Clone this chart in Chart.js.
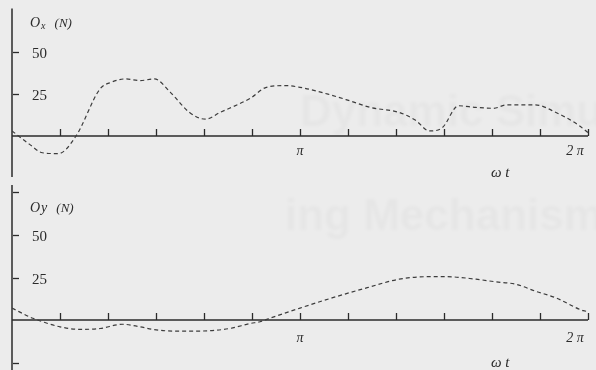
<!DOCTYPE html>
<html>
<head>
<meta charset="utf-8">
<title>Ox / Oy joint forces vs crank angle</title>
<script src="https://cdn.jsdelivr.net/npm/chart.js@4.4.0/dist/chart.umd.min.js"></script>
<style>
  html, body { margin: 0; padding: 0; background: #ececec; overflow: hidden; }
  .panel { position: relative; width: 596px; height: 185px; }
</style>
</head>
<body>
<div class="panel"><canvas id="oxChart"></canvas></div>
<div class="panel"><canvas id="oyChart"></canvas></div>
<script>
// crank angle ωt in degrees, 0 .. 360 (= 2π)
const oxAngles = [0, 11, 19, 29, 40, 55, 62, 71, 80, 89, 99, 111, 121, 130, 149, 159, 171, 180, 199, 211, 224, 242, 252, 261, 269, 279, 290, 301, 309, 327, 340, 354, 360];
const oxValues = [3, -5, -10, -10.5, 0, 28, 32, 34, 33, 34, 26, 14, 10, 14, 22.5, 29, 30, 29, 24.5, 21, 17, 14, 9.5, 3, 5, 18, 17, 16.5, 18.5, 18.5, 14, 6.5, 2];

const oyAngles = [0, 13, 19, 30, 42, 55, 69, 80, 88, 101, 117, 136, 149, 155, 161, 180, 200, 222, 242, 261, 271, 290, 302, 315, 327, 340, 357, 360];
const oyValues = [7, 1, -1, -4, -5.5, -5, -2.5, -4, -5.5, -6.5, -6.5, -5, -2, -1, 1, 7, 13, 19, 24, 25.5, 25.5, 24, 22.5, 21, 17, 13, 5.5, 5];

const xTicks = [30, 60, 90, 120, 150, 180, 210, 240, 270, 300, 330, 360];
const xTickLabels = ['', '', '', '', '', 'π', '', '', '', '', '', '2 π'];

const oxTicks = [50, 25];
const oxTickLabels = ['50', '25'];
const oyTicks = [75, 50, 25, -25];
const oyTickLabels = ['', '50', '25', ''];

const ink = '#2b2b2b';
const curveColor = '#3c3c3c';

// draws the hand-made looking axes through the chart's own scales
const mechAxes = {
  id: 'mechAxes',
  beforeDraw(chart, args, opts) {
    const ctx = chart.ctx;
    ctx.save();
    // faint print-through from the other side of the page
    ctx.filter = 'blur(1.5px)';
    ctx.fillStyle = 'rgba(0,0,0,0.025)';
    ctx.font = 'bold 44px "Liberation Sans", sans-serif';
    ctx.fillText(opts.ghost, opts.ghostX, opts.ghostY);
    ctx.restore();
  },
  beforeDatasetsDraw(chart, args, opts) {
    const ctx = chart.ctx;
    const xs = chart.scales.x;
    const ys = chart.scales.y;
    const x0 = xs.getPixelForValue(0);
    const x1 = xs.getPixelForValue(360);
    const y0 = ys.getPixelForValue(0);

    ctx.save();
    ctx.strokeStyle = ink;
    ctx.fillStyle = ink;
    ctx.lineWidth = 1.5;

    // vertical axis
    ctx.beginPath();
    ctx.moveTo(x0, ys.getPixelForValue(opts.axisTop));
    ctx.lineTo(x0, ys.getPixelForValue(opts.axisBottom));
    ctx.stroke();

    // horizontal axis at zero
    ctx.beginPath();
    ctx.moveTo(x0, y0);
    ctx.lineTo(x1, y0);
    ctx.stroke();

    // x ticks pointing up
    ctx.lineWidth = 1.3;
    xTicks.forEach(v => {
      const px = Math.round(xs.getPixelForValue(v)) + 0.5;
      ctx.beginPath();
      ctx.moveTo(px, y0);
      ctx.lineTo(px, y0 - 7);
      ctx.stroke();
    });

    // x tick labels (π, 2π)
    ctx.font = 'italic 14px "Liberation Serif", serif';
    ctx.textAlign = 'center';
    xTicks.forEach((v, i) => {
      const lab = xTickLabels[i];
      if (!lab) return;
      let px = xs.getPixelForValue(v);
      if (v === 360) px -= 13;
      ctx.fillText(lab, px, y0 + opts.xLabelDy);
    });

    // ω t
    ctx.font = 'italic 15px "Liberation Serif", serif';
    ctx.textAlign = 'left';
    ctx.fillText('ω t', 491, y0 + opts.axisNameDy);

    // y ticks and labels
    ctx.lineWidth = 1.3;
    ctx.font = '15px "Liberation Serif", serif';
    opts.ticks.forEach((v, i) => {
      const py = Math.round(ys.getPixelForValue(v)) + 0.5;
      ctx.beginPath();
      ctx.moveTo(x0 + 1, py);
      ctx.lineTo(x0 + 7, py);
      ctx.stroke();
      const lab = opts.tickLabels[i];
      if (lab) ctx.fillText(lab, x0 + 20, py + 5);
    });

    // axis title
    ctx.font = 'italic 14px "Liberation Serif", serif';
    ctx.fillText('O', 30, 27);
    let tx = 30 + ctx.measureText('O').width + 1;
    if (opts.sub) {
      ctx.font = 'italic 10px "Liberation Serif", serif';
      ctx.fillText(opts.sub, tx, 29);
      tx += ctx.measureText(opts.sub).width;
    } else {
      ctx.fillText(opts.letter, tx, 27);
      tx += ctx.measureText(opts.letter).width;
    }
    ctx.font = 'italic 13px "Liberation Serif", serif';
    ctx.fillText('(N)', tx + 9, 27);
    ctx.restore();
  }
};

function buildChart(id, angles, values, yMin, yMax, axisOpts) {
  return new Chart(document.getElementById(id), {
    type: 'line',
    data: {
      datasets: [{
        data: angles.map((a, i) => ({ x: a, y: values[i] })),
        borderColor: curveColor,
        borderWidth: 1.2,
        borderDash: [4, 3],
        pointRadius: 0,
        fill: false,
        cubicInterpolationMode: 'monotone'
      }]
    },
    options: {
      responsive: true,
      maintainAspectRatio: false,
      animation: false,
      layout: { padding: { left: 12, right: 8, top: 0, bottom: 0 } },
      plugins: {
        legend: { display: false },
        tooltip: { enabled: false },
        mechAxes: axisOpts
      },
      scales: {
        x: { type: 'linear', min: 0, max: 360, display: false },
        y: { type: 'linear', min: yMin, max: yMax, display: false }
      }
    },
    plugins: [mechAxes]
  });
}

buildChart('oxChart', oxAngles, oxValues, -29.2, 81, {
  ticks: oxTicks, tickLabels: oxTickLabels, sub: 'x', letter: '',
  axisTop: 76, axisBottom: -24.5, xLabelDy: 19, axisNameDy: 41,
  ghost: 'Dynamic Simu', ghostX: 300, ghostY: 126
});

buildChart('oyChart', oyAngles, oyValues, -29.4, 79.4, {
  ticks: oyTicks, tickLabels: oyTickLabels, sub: '', letter: 'y',
  axisTop: 80, axisBottom: -30, xLabelDy: 22, axisNameDy: 47,
  ghost: 'ing Mechanisms', ghostX: 285, ghostY: 45
});
</script>
</body>
</html>
